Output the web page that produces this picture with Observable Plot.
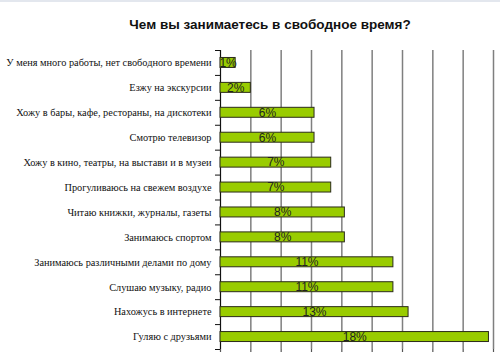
<!DOCTYPE html>
<html>
<head>
<meta charset="utf-8">
<script src="https://cdn.jsdelivr.net/npm/d3@7"></script>
<script src="https://cdn.jsdelivr.net/npm/@observablehq/plot@0.6"></script>
<style>
  html, body { margin: 0; padding: 0; background: #fff; }
  body { width: 500px; height: 352px; overflow: hidden; border-top: 2px solid #e3e7ee; box-sizing: border-box; }
  #title { height: 38px; line-height: 46px; text-align: center; padding-left: 40px;
           font-family: "Liberation Sans", Arial, sans-serif; font-weight: bold; font-size: 13.5px; color: #111; }
</style>
</head>
<body>
<div id="title">Чем вы занимаетесь в свободное время?</div>
<div id="chart"></div>
<script>
const categories = [
  "У меня много работы, нет свободного времени",
  "Езжу на экскурсии",
  "Хожу в бары, кафе, рестораны, на дискотеки",
  "Смотрю телевизор",
  "Хожу в кино, театры, на выстави и в музеи",
  "Прогуливаюсь на свежем воздухе",
  "Читаю книжки, журналы, газеты",
  "Занимаюсь спортом",
  "Занимаюсь различными делами по дому",
  "Слушаю музыку, радио",
  "Нахожусь в интернете",
  "Гуляю с друзьями"
];
const values = [1.0, 2.0, 6.2, 6.2, 7.3, 7.3, 8.2, 8.2, 11.4, 11.4, 12.4, 17.7];
const valueLabels = ["1%", "2%", "6%", "6%", "7%", "7%", "8%", "8%", "11%", "11%", "13%", "18%"];
const xTicks = [0, 2, 4, 6, 8, 10, 12, 14, 16, 18];

const rows = categories.map((c, i) => ({c, v: values[i], label: valueLabels[i], i}));

const chart = Plot.plot({
  width: 500,
  height: 312,
  marginTop: 10,
  marginBottom: 3,
  marginLeft: 220,
  marginRight: 7,
  style: {fontFamily: "'Liberation Serif', 'Times New Roman', serif", fontSize: "10.3px", color: "#111", background: "#fff"},
  x: {domain: [0, 18], axis: null, label: null},
  y: {domain: [0, categories.length], reverse: true, axis: null, label: null},
  marks: [
    Plot.ruleX(xTicks.slice(1), {x: d => d, y1: 0, y2: categories.length, stroke: "#7f7f7f", strokeWidth: 1.5}),
    Plot.axisX({ticks: xTicks, tickSize: 6, tickFormat: () => "", stroke: "#555", strokeWidth: 1.2, anchor: "bottom", label: null}),
    Plot.ruleX([0], {x: d => d, y1: 0, y2: categories.length, stroke: "#111", strokeWidth: 1.2}),
    Plot.axisY({ticks: d3.range(0, categories.length + 1), tickSize: 5, tickFormat: () => "", stroke: "#111", anchor: "left", label: null}),
    Plot.axisY({ticks: rows.map(d => d.i + 0.5), tickFormat: t => categories[Math.floor(t)], tickSize: 0, tickPadding: 9, anchor: "left", fontSize: 10.3, label: null}),
    Plot.rect(rows, {x1: 0, x2: "v", y1: d => d.i + 0.3, y2: d => d.i + 0.7, fill: "#99cc00", stroke: "#2b2b1a", strokeWidth: 1}),
    Plot.text(rows, {x: d => d.v / 2, y: d => d.i + 0.5, text: "label", fontFamily: "'Liberation Sans', Arial, sans-serif", fontSize: 12, fill: "#222"})
  ]
});
document.getElementById("chart").appendChild(chart);
</script>
</body>
</html>
